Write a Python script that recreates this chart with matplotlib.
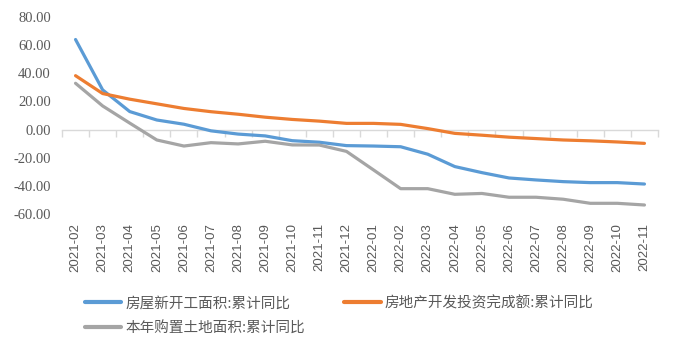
import matplotlib
matplotlib.use("Agg")
import matplotlib.pyplot as plt
from matplotlib.ticker import FixedLocator

months = ["2021-02", "2021-03", "2021-04", "2021-05", "2021-06", "2021-07", "2021-08",
          "2021-09", "2021-10", "2021-11", "2021-12", "2022-01", "2022-02", "2022-03",
          "2022-04", "2022-05", "2022-06", "2022-07", "2022-08", "2022-09", "2022-10", "2022-11"]
new_start = [64.0, 28.2, 12.8, 6.8, 3.8, -0.9, -3.2, -4.5, -7.9, -9.0, -11.4, -11.7,
             -12.2, -17.5, -26.3, -30.6, -34.4, -35.8, -37.0, -37.7, -37.7, -38.7]
invest = [38.3, 25.6, 21.6, 18.3, 15.0, 12.7, 10.9, 8.8, 7.2, 6.0, 4.4, 4.4,
          3.7, 0.7, -2.7, -4.0, -5.4, -6.4, -7.4, -8.0, -8.8, -9.8]
land = [32.9, 16.8, 4.6, -7.4, -11.7, -9.3, -10.2, -8.3, -10.9, -11.0, -15.5, -28.7,
        -42.0, -42.0, -46.0, -45.4, -48.1, -48.1, -49.5, -52.4, -52.4, -53.6]
series_names = ["房屋新开工面积:累计同比", "房地产开发投资完成额:累计同比", "本年购置土地面积:累计同比"]
colors = ["#5B9BD5", "#ED7D31", "#A5A5A5"]
yticks = [80, 60, 40, 20, 0, -20, -40, -60]

plt.rcParams['font.family'] = ['Noto Sans CJK SC', 'DejaVu Sans']

fig = plt.figure(figsize=(6.77, 3.51), dpi=100)
ax = fig.add_axes([62/677, 1-214/351, (658-62)/677, (214-17)/351])

x = list(range(len(months)))
handles = []
for vals, c, name in zip([new_start, invest, land], colors, series_names):
    h, = ax.plot(x, vals, color=c, lw=2.3, solid_capstyle='round', label=name, zorder=3)
    handles.append(h)

ax.set_xlim(-0.5, len(months) - 0.5)
ax.set_ylim(-60, 80)

for s in ['top', 'right', 'left']:
    ax.spines[s].set_visible(False)
ax.spines['bottom'].set_position(('data', 0))
ax.spines['bottom'].set_color('#D9D9D9')
ax.spines['bottom'].set_linewidth(1.0)
ax.set_xticks([])
ax.xaxis.set_minor_locator(FixedLocator([i - 0.5 for i in range(len(months) + 1)]))
ax.tick_params(axis='x', which='minor', length=5, width=1, color='#D9D9D9', direction='out')

ax.set_yticks(yticks)
ax.set_yticklabels([f"{v:.2f}" for v in yticks], family=['Liberation Serif'],
                   fontsize=10.5, color='#595959')
ax.tick_params(axis='y', length=0, pad=8)

sec = ax.secondary_xaxis(0)
sec.set_xticks(x)
sec.set_xticklabels(months, rotation=90, family=['Liberation Sans'], fontsize=9.5,
                    color='#595959')
sec.tick_params(length=0, pad=6.5)
sec.spines['bottom'].set_visible(False)

leg = fig.legend(handles=[handles[0], handles[2], handles[1]],
                 labels=[series_names[0], series_names[2], series_names[1]],
                 ncol=2, loc='upper left', bbox_to_anchor=(85/677, 1-296/351),
                 frameon=False, fontsize=10.5, handlelength=2.5, handletextpad=0.3,
                 columnspacing=2.65, labelspacing=0.75, borderaxespad=0, borderpad=0)
for t in leg.get_texts():
    t.set_color('#595959')
for l in leg.get_lines():
    l.set_linewidth(3)

fig.savefig("out.png", dpi=100)
